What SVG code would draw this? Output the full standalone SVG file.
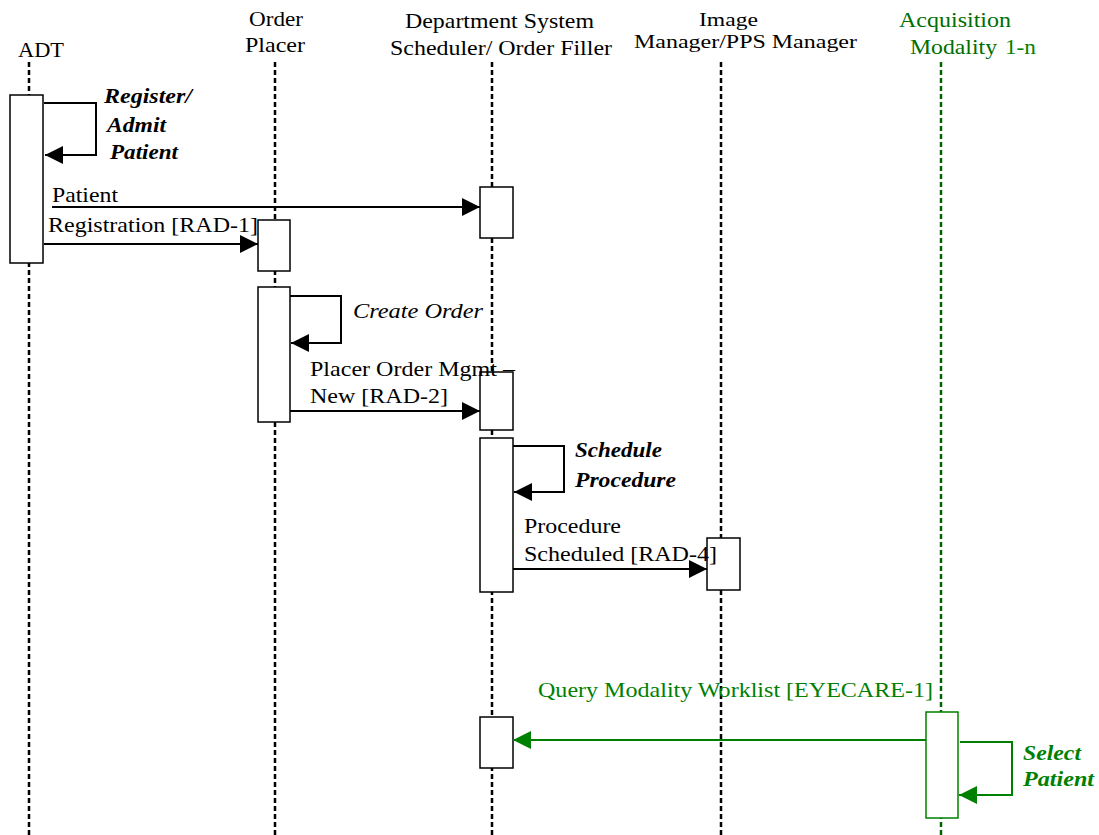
<svg xmlns="http://www.w3.org/2000/svg" width="1099" height="835" viewBox="0 0 1099 835">
<style>
.t{font-family:"Liberation Serif","Times New Roman",Times,serif;font-size:21px;fill:#000}
.s{font-size:19px}
.i{font-style:italic}
.b{font-weight:bold}
.g{fill:#008000}
.gd{fill:#006e00}
.life{stroke:#000;stroke-width:2.5;stroke-dasharray:5 3;fill:none}
.lifeg{stroke:#006400;stroke-width:2.5;stroke-dasharray:5 3;fill:none}
.act{fill:#fff;stroke:#000;stroke-width:1.5}
.actg{fill:#fff;stroke:#008000;stroke-width:1.5}
.msg{stroke:#000;stroke-width:2;fill:none}
.msgg{stroke:#008000;stroke-width:2;fill:none}
</style>
<defs>
<marker id="ah" markerWidth="18" markerHeight="18" refX="18" refY="9" orient="auto" markerUnits="userSpaceOnUse">
<path d="M0,0 L18,9 L0,18 Z" fill="#000"/>
</marker>
<marker id="ahg" markerWidth="18" markerHeight="18" refX="18" refY="9" orient="auto" markerUnits="userSpaceOnUse">
<path d="M0,0 L18,9 L0,18 Z" fill="#008000"/>
</marker>
</defs>
<rect width="1099" height="835" fill="#fff"/>

<g id="adt">
<text class="t" x="18" y="57" textLength="46" lengthAdjust="spacingAndGlyphs">ADT</text>
<line class="life" x1="29" y1="62" x2="29" y2="835"/>
<rect class="act" x="10" y="95" width="33" height="168"/>
</g>

<g id="order-placer">
<text class="t" x="249" y="26" textLength="54" lengthAdjust="spacingAndGlyphs">Order</text>
<text class="t" x="245" y="52" textLength="60" lengthAdjust="spacingAndGlyphs">Placer</text>
<line class="life" x1="275" y1="62" x2="275" y2="835"/>
<rect class="act" x="258" y="220" width="32" height="51"/>
<rect class="act" x="258" y="287" width="32" height="135"/>
</g>

<g id="department-system">
<text class="t" x="405" y="28" textLength="189" lengthAdjust="spacingAndGlyphs">Department System</text>
<text class="t" x="390" y="55" textLength="222" lengthAdjust="spacingAndGlyphs">Scheduler/ Order Filler</text>
<line class="life" x1="492" y1="62" x2="492" y2="835"/>
<rect class="act" x="480" y="187" width="33" height="51"/>
<rect class="act" x="480" y="372" width="33" height="58"/>
<rect class="act" x="480" y="438" width="33" height="154"/>
<rect class="act" x="480" y="717" width="33" height="51"/>
</g>

<g id="image-manager">
<text class="t s" x="699" y="26" textLength="59" lengthAdjust="spacingAndGlyphs">Image</text>
<text class="t s" x="634" y="48" textLength="223" lengthAdjust="spacingAndGlyphs">Manager/PPS Manager</text>
<line class="life" x1="721" y1="62" x2="721" y2="835"/>
<rect class="act" x="707" y="538" width="33" height="52"/>
</g>

<g id="acquisition-modality">
<text class="t gd" x="899" y="27" textLength="112" lengthAdjust="spacingAndGlyphs">Acquisition</text>
<text class="t gd" x="910" y="54" textLength="87" lengthAdjust="spacingAndGlyphs">Modality</text>
<text class="t g" x="1005" y="54" textLength="31" lengthAdjust="spacingAndGlyphs">1-n</text>
<line class="lifeg" x1="941" y1="62" x2="941" y2="835"/>
<rect class="actg" x="926" y="712" width="32" height="106"/>
</g>

<g id="connectors">
<polyline class="msg" points="44,103 96,103 96,155 45,155" marker-end="url(#ah)"/>
<text class="t i b" x="104" y="103" textLength="88" lengthAdjust="spacingAndGlyphs">Register/</text>
<text class="t i b" x="107" y="132" textLength="59" lengthAdjust="spacingAndGlyphs">Admit</text>
<text class="t i b" x="110" y="159" textLength="68" lengthAdjust="spacingAndGlyphs">Patient</text>

<line class="msg" x1="52" y1="207" x2="480" y2="207" marker-end="url(#ah)"/>
<line class="msg" x1="44" y1="244" x2="258" y2="244" marker-end="url(#ah)"/>
<text class="t" x="52" y="202" textLength="66" lengthAdjust="spacingAndGlyphs">Patient</text>
<text class="t" x="48" y="232" textLength="210" lengthAdjust="spacingAndGlyphs">Registration [RAD-1]</text>

<polyline class="msg" points="290,296 341,296 341,343 291,343" marker-end="url(#ah)"/>
<text class="t i" x="353" y="318" textLength="130" lengthAdjust="spacingAndGlyphs" fill="#333">Create Order</text>

<text class="t" x="310" y="376" textLength="205" lengthAdjust="spacingAndGlyphs">Placer Order Mgmt –</text>
<text class="t" x="310" y="403" textLength="138" lengthAdjust="spacingAndGlyphs">New [RAD-2]</text>
<line class="msg" x1="290" y1="411" x2="480" y2="411" marker-end="url(#ah)"/>

<polyline class="msg" points="513,446 564,446 564,492 514,492" marker-end="url(#ah)"/>
<text class="t i b" x="575" y="457" textLength="87" lengthAdjust="spacingAndGlyphs">Schedule</text>
<text class="t i b" x="575" y="487" textLength="101" lengthAdjust="spacingAndGlyphs">Procedure</text>

<text class="t" x="524" y="533" textLength="97" lengthAdjust="spacingAndGlyphs">Procedure</text>
<text class="t" x="524" y="561" textLength="193" lengthAdjust="spacingAndGlyphs">Scheduled [RAD-4]</text>
<line class="msg" x1="513" y1="569" x2="707" y2="569" marker-end="url(#ah)"/>

<text class="t g" x="538" y="697" textLength="395" lengthAdjust="spacingAndGlyphs">Query Modality Worklist [EYECARE-1]</text>
<line class="msgg" x1="926" y1="740" x2="513" y2="740" marker-end="url(#ahg)"/>

<polyline class="msgg" points="960,742 1012,742 1012,795 959,795" marker-end="url(#ahg)"/>
<text class="t i b g" x="1023" y="760" textLength="58" lengthAdjust="spacingAndGlyphs">Select</text>
<text class="t i b g" x="1023" y="786" textLength="71" lengthAdjust="spacingAndGlyphs">Patient</text>
</g>
</svg>
